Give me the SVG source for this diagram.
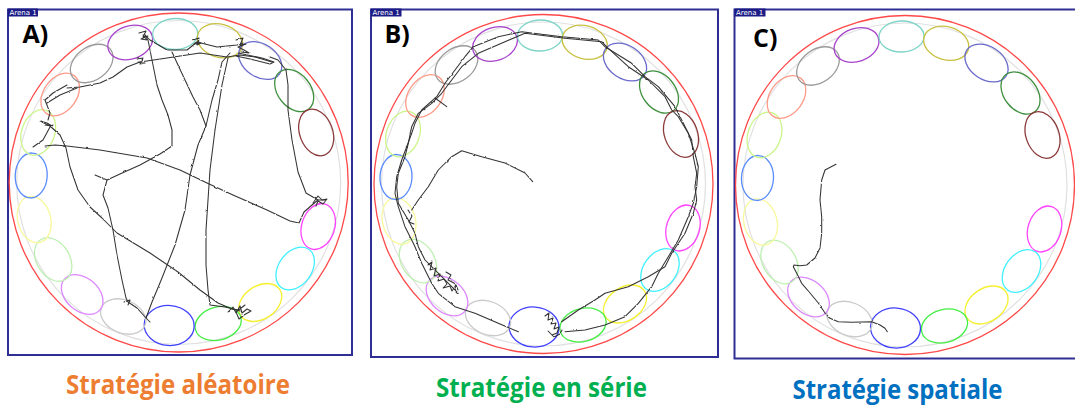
<svg xmlns="http://www.w3.org/2000/svg" xmlns:xlink="http://www.w3.org/1999/xlink" width="1075" height="405" viewBox="0 0 1075 405">
  <defs>
    <style>
      .frame{fill:#fff;stroke:#2e2e94;stroke-width:2}
      .tag{fill:#1c1c86}
      .tagtxt{font-family:"DejaVu Sans",sans-serif;font-size:7px;fill:#fff}
      .letter{font-family:"Open Sans",sans-serif;font-weight:700;font-size:25px;fill:#000}
      .pool{fill:none;stroke:#ff4848;stroke-width:1.3}
      .rim{fill:none;stroke:#e0e0e0;stroke-width:1.2}
      .zone{fill:none;stroke-width:1.3}
      .track{fill:none;stroke:#333;stroke-width:1.05;stroke-linejoin:round;stroke-linecap:round}
      .caption{font-family:"Open Sans",sans-serif;font-weight:700;font-size:26px;text-anchor:middle}
    </style>
    <!-- wobble applied to the tracking paths -->
    <filter id="jitter" filterUnits="userSpaceOnUse" x="0" y="0" width="1075" height="405">
      <feTurbulence type="fractalNoise" baseFrequency="0.22" numOctaves="2" seed="7" result="n"/>
      <feDisplacementMap in="SourceGraphic" in2="n" scale="2" xChannelSelector="R" yChannelSelector="G"/>
    </filter>
    <!-- arena: pool wall, rim and 19 target zones, centred on 0,0 -->
    <g id="arena">
      <circle class="pool" cx="0" cy="0" r="169.5"/>
      <circle class="rim" cx="0" cy="0" r="162"/>
      <ellipse class="zone" stroke="#ff44ff" cx="139.5" cy="44" rx="23.5" ry="16.5" transform="rotate(107.5 139.5 44)"/>
      <ellipse class="zone" stroke="#3ff0ff" cx="116.5" cy="86" rx="23.5" ry="16.5" transform="rotate(126.4 116.5 86)"/>
      <ellipse class="zone" stroke="#f5f030" cx="81.5" cy="120" rx="23.5" ry="16.5" transform="rotate(145.8 81.5 120)"/>
      <ellipse class="zone" stroke="#44ee44" cx="39.5" cy="141" rx="23.5" ry="16.5" transform="rotate(164.4 39.5 141)"/>
      <ellipse class="zone" stroke="#4040ff" cx="-9.5" cy="143" rx="25" ry="20" transform="rotate(183.8 -9.5 143)"/>
      <ellipse class="zone" stroke="#cacaca" cx="-55.5" cy="134" rx="23.5" ry="16.5" transform="rotate(202.5 -55.5 134)"/>
      <ellipse class="zone" stroke="#dd88ff" cx="-96.5" cy="112" rx="23.5" ry="16.5" transform="rotate(220.7 -96.5 112)"/>
      <ellipse class="zone" stroke="#bdf0b0" cx="-125.5" cy="77" rx="23.5" ry="16.5" transform="rotate(238.5 -125.5 77)"/>
      <ellipse class="zone" stroke="#f8f89c" cx="-144.5" cy="37" rx="23.5" ry="16.5" transform="rotate(255.6 -144.5 37)"/>
      <ellipse class="zone" stroke="#5a8cff" cx="-147.5" cy="-7" rx="22.5" ry="16" transform="rotate(272.7 -147.5 -7)"/>
      <ellipse class="zone" stroke="#ccf58a" cx="-140.5" cy="-50" rx="23.5" ry="16.5" transform="rotate(289.6 -140.5 -50)"/>
      <ellipse class="zone" stroke="#ff9a88" cx="-118.5" cy="-88" rx="23.5" ry="16.5" transform="rotate(306.6 -118.5 -88)"/>
      <ellipse class="zone" stroke="#9a9a9a" cx="-87" cy="-119" rx="23.5" ry="16.5" transform="rotate(323.8 -87 -119)"/>
      <ellipse class="zone" stroke="#a844cc" cx="-48.5" cy="-140" rx="23" ry="16.5" transform="rotate(340.9 -48.5 -140)"/>
      <ellipse class="zone" stroke="#7fd4c8" cx="-3.5" cy="-148.5" rx="22.5" ry="15.5" transform="rotate(358.6 -3.5 -148.5)"/>
      <ellipse class="zone" stroke="#c8c040" cx="41.2" cy="-141.7" rx="23" ry="16.5" transform="rotate(16.2 41.2 -141.7)"/>
      <ellipse class="zone" stroke="#6a6acc" cx="81.5" cy="-122" rx="23.5" ry="16.5" transform="rotate(33.7 81.5 -122)"/>
      <ellipse class="zone" stroke="#3f8f3f" cx="115.5" cy="-92" rx="23.5" ry="16.5" transform="rotate(51.5 115.5 -92)"/>
      <ellipse class="zone" stroke="#8b3a3a" cx="137.5" cy="-50" rx="24" ry="16.5" transform="rotate(70 137.5 -50)"/>
    </g>
  </defs>

  <rect width="1075" height="405" fill="#fff"/>

  <!-- Panel A: random strategy -->
  <g id="panel-a">
    <rect class="frame" x="8" y="9.5" width="344" height="345.5"/>
    <use xlink:href="#arena" href="#arena" transform="translate(178.7 182.5)"/>
    <rect class="tag" x="8" y="8.5" width="30" height="8"/>
    <text class="tagtxt" x="9.5" y="15.3">Arena 1</text>
    <text class="letter" x="22.5" y="43">A)</text>
    <g id="track-a" class="track" filter="url(#jitter)">
      <polyline points="45,146 55,145 67,146 100,150 147,158 180,170 207,183 233,195 267,210 290,221 299,223 304,212 312,205 318,200 325,200"/>
      <polyline points="318,200 306,193 298,172 292,140 288,110 288,85 286,70 278,60 270,57"/>
      <polyline points="42,122 50,126 60,135 66,148 70,167 78,190 90,207 102,218 117,233 150,253 178,272 200,290 218,303 232,309 240,311"/>
      <polyline points="95,175 107,180 120,174 140,165 160,154 172,146 172,130 168,115 162,100 157,85 152,60 148,40 145,35"/>
      <polyline points="107,180 103,195 108,208 113,230 117,255 122,280 126,298 128,302 137,308 146,318 150,322"/>
      <polyline points="146,318 152,302 162,278 175,245 185,210 190,175 198,145 206,126 212,100 218,80 222,62 230,53"/>
      <polyline points="206,126 200,110 193,97 185,80 178,65 172,52"/>
      <polyline points="228,58 222,85 215,130 210,170 206,230 206,265 208,290 210,305 225,307 238,310"/>
      <polyline points="67,88 80,87 100,83 113,77 127,67 140,62 167,58 200,53 227,57 240,55 255,57 272,62"/>
      <polyline points="145,35 150,40 167,50 187,50 197,42 217,47 237,45 243,43"/>
      <polyline points="45,100 53,93 67,85"/>
      <polyline points="47,103 60,95 77,88"/>
      <polyline points="45,100 50,113 48,120"/>
      <polyline points="33,147 43,140 50,127 53,125"/>
      <polyline points="139,33 146,31 143,37 148,36 141,39 147,40 143,35"/>
      <polyline points="137,59 143,58 140,64 145,63 138,62"/>
      <polyline points="193,40 199,38 197,45 201,43 194,44 199,41"/>
      <polyline points="236,40 243,38 240,45 246,44 238,47 244,50 249,53 241,52"/>
      <polyline points="238,53 262,58 274,62 270,64 250,59 236,56"/>
      <polyline points="313,203 318,196 322,200 327,199 323,204 318,201 316,206"/>
      <polyline points="228,312 233,307 236,313 240,306 242,313 247,309 251,311 244,315 239,319 236,312 245,305"/>
      <polyline points="124,302 130,300 128,305"/>
      <polyline points="40,121 47,123 52,126 45,125"/>
    </g>
  </g>

  <!-- Panel B: serial strategy -->
  <g id="panel-b">
    <rect class="frame" x="371" y="9.5" width="347" height="347.5"/>
    <use xlink:href="#arena" href="#arena" transform="translate(543.5 184)"/>
    <rect class="tag" x="371" y="8.5" width="30.5" height="8"/>
    <text class="tagtxt" x="372.5" y="15.3">Arena 1</text>
    <text class="letter" x="384.5" y="42.5">B)</text>
    <g id="track-b" class="track" filter="url(#jitter)">
      <polyline points="532.7,181.7 525,173 505,163 481.7,156.7 461.7,150.7 451.7,156.7 438.3,170 428.3,186.7 418.3,200 411.7,210"/>
      <polyline points="518.3,331.7 498.3,323.3 475,313.3 455,306.7 438.3,293.3 431.7,283.3 421.7,263.3 415,246.7 411.7,240 405,226.7 398.3,206.7 395,193.3 396.7,176.7 401.7,160 406.7,146.7 411.7,133.3 415,123.3 421.7,110 436.7,96.7 445,83.3 455,70 465,56.7 473.3,46.7 498.3,36.7 521.7,31.7 561.7,36.7 598.3,40 605,46.7 631.7,63.3 645,76.7 658.3,86.7 675,106.7 681.7,120 691.7,140 693.3,156.7 696.7,173.3 695,186.7 696.7,200 693.3,213.3 685,233.3 671.7,253.3 665,266.7 648.3,276.7 628.3,286.7 605,293.3 595,300 578.3,310 561.7,321.7"/>
      <polyline points="458.3,293.3 451.7,286.7 441.7,276.7 431.7,266.7 425,260 418.3,246.7 415,233.3 408.3,220 398.3,203.3 396.7,186.7 398.3,173.3 405,156.7 408.3,143.3 411.7,126.7 418.3,113.3 431.7,103.3 441.7,93.3 451.7,80 461.7,66.7 478.3,53.3 505,41.7 525,33.3 565,38.3 601.7,41.7 608.3,48.3 628.3,66.7 648.3,80 665,96.7 671.7,110 678.3,116.7 688.3,133.3 695,153.3 698.3,166.7 696.7,186.7 693.3,203.3 688.3,216.7 678.3,240 668.3,256.7 658.3,273.3 651.7,286.7 638.3,303.3 625,316.7 605,325 585,330 565,331.7"/>
      <polyline points="435,98 446.7,106.7"/>
      <polyline points="428,265 432,262 430,270 436,268 434,276 440,274 438,281 444,279 447,284 443,288 450,286 452,291 456,285 458,290 454,283 448,280 451,275 446,272"/>
      <polyline points="545,316 549,313 548,320 553,318 551,324 556,323 554,329 559,327 557,333 552,335 548,331 554,337 560,334 562,330"/>
      <polyline points="408,210 412,216 409,222 414,224"/>
    </g>
  </g>

  <!-- Panel C: spatial strategy -->
  <g id="panel-c">
    <rect class="frame" x="734.5" y="9.5" width="350" height="349"/>
    <use xlink:href="#arena" href="#arena" transform="translate(905 185)"/>
    <rect class="tag" x="734.5" y="8.5" width="31" height="8"/>
    <text class="tagtxt" x="736" y="15.3">Arena 1</text>
    <text class="letter" x="753" y="47">C)</text>
    <g id="track-c" class="track" filter="url(#jitter)">
      <polyline points="836,164.3 825,170 821.7,180 820,200 821.7,216.7 821.7,233 820,248 815,258 806.7,265 800,265.7 794,265 793.3,266.7 796.7,273.3 801.7,283.3 810,293 818.3,303 825,313 830,318.3 838.3,321.7 851.7,322.3 871.7,321.7 880,325 885,328.3 887.3,331.7"/>
    </g>
  </g>

  <!-- Captions -->
  <g id="captions">
    <text class="caption" x="178" y="393.5" fill="#ed7d31" textLength="224" lengthAdjust="spacingAndGlyphs">Stratégie aléatoire</text>
    <text class="caption" x="541.5" y="397" fill="#00b050" textLength="211" lengthAdjust="spacingAndGlyphs">Stratégie en série</text>
    <text class="caption" x="897.5" y="398.5" fill="#0070c0" textLength="210" lengthAdjust="spacingAndGlyphs">Stratégie spatiale</text>
  </g>
</svg>
